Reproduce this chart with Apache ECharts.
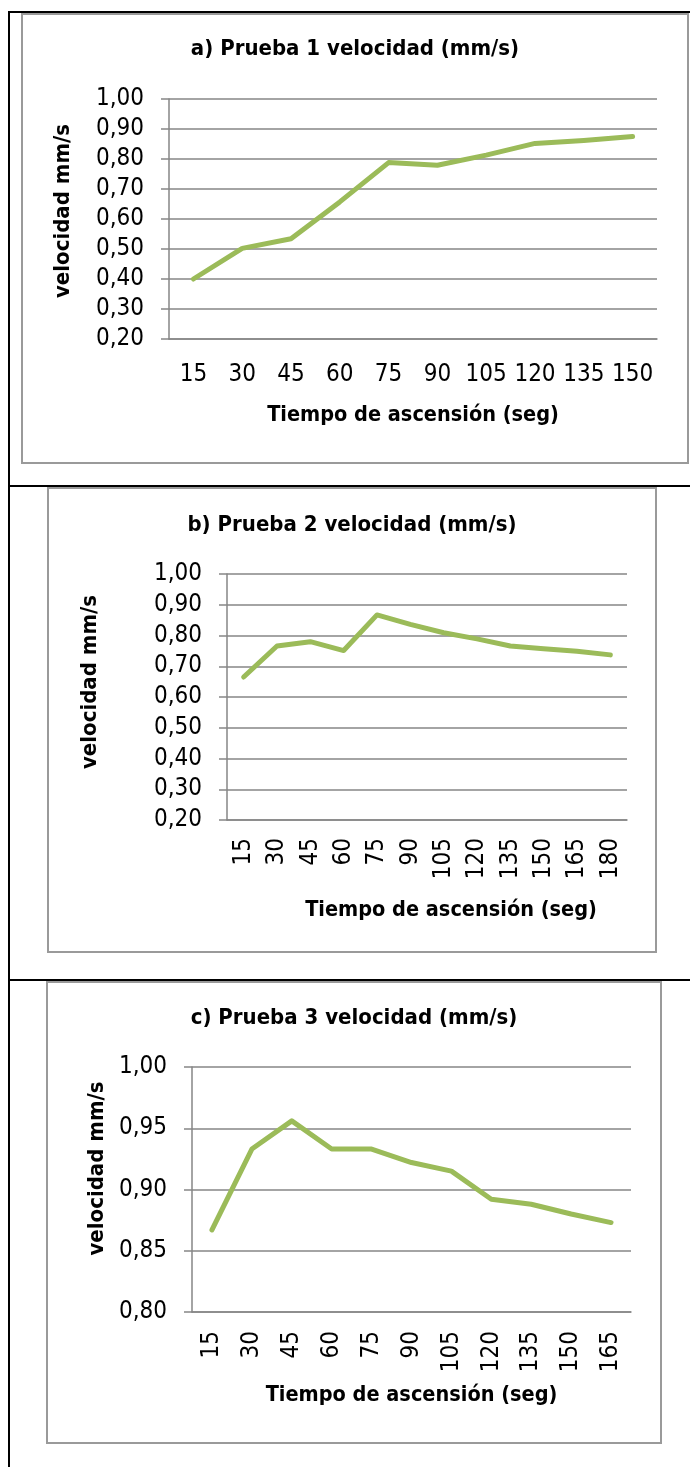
<!DOCTYPE html>
<html>
<head>
<meta charset="utf-8">
<script src="https://cdn.jsdelivr.net/npm/echarts@6/dist/echarts.min.js"></script>
<style>
  html, body { margin: 0; padding: 0; background: #fff; }
  #main { width: 690px; height: 1467px; }
</style>
</head>
<body>
<div id="main"></div>
<script>
const tiemposA = ['15', '30', '45', '60', '75', '90', '105', '120', '135', '150'];
const velocidadA = [0.400, 0.502, 0.534, 0.657, 0.788, 0.779, 0.813, 0.852, 0.862, 0.875];

const tiemposB = ['15', '30', '45', '60', '75', '90', '105', '120', '135', '150', '165', '180'];
const velocidadB = [0.665, 0.766, 0.780, 0.751, 0.867, 0.836, 0.809, 0.789, 0.766, 0.757, 0.749, 0.737];

const tiemposC = ['15', '30', '45', '60', '75', '90', '105', '120', '135', '150', '165'];
const velocidadC = [0.867, 0.933, 0.956, 0.933, 0.933, 0.922, 0.915, 0.892, 0.888, 0.880, 0.873];

const titulos = ['a) Prueba 1 velocidad (mm/s)', 'b) Prueba 2 velocidad (mm/s)', 'c) Prueba 3 velocidad (mm/s)'];
const nombreY = 'velocidad mm/s';
const nombreX = 'Tiempo de ascensión (seg)';

const FONT = "'Liberation Sans Narrow', 'DejaVu Sans Condensed', 'Liberation Sans', sans-serif";
const GRIS = '#868686';
const VERDE = '#9BBB59';

var myChart = echarts.init(document.getElementById('main'));

function coma(v) {
  return v.toFixed(2).replace('.', ',');
}

function ejeY(idx, min, max, interval, gap, pad) {
  return {
    type: 'value', gridIndex: idx, min: min, max: max, interval: interval,
    name: nombreY, nameLocation: 'middle', nameGap: gap,
    nameTextStyle: { fontFamily: FONT, fontSize: 22, fontWeight: 'bold', color: '#000', padding: pad },
    axisLine: { show: true, lineStyle: { color: GRIS, width: 1.5 } },
    axisTick: { show: true, length: 8, lineStyle: { color: GRIS, width: 1.5 } },
    axisLabel: { fontFamily: FONT, fontSize: 24, color: '#000', margin: 25, formatter: coma },
    splitLine: { show: true, lineStyle: { color: GRIS, width: 1.5 } }
  };
}

function ejeX(idx, cats, rot, margin, gap, pad) {
  return {
    type: 'category', gridIndex: idx, data: cats, boundaryGap: true,
    name: nombreX, nameLocation: 'middle', nameGap: gap,
    nameTextStyle: { fontFamily: FONT, fontSize: 21.5, fontWeight: 'bold', color: '#000', padding: pad },
    axisLine: { show: true, lineStyle: { color: GRIS, width: 1.5 } },
    axisTick: { show: false },
    axisLabel: { fontFamily: FONT, fontSize: 24, color: '#000', margin: margin, rotate: rot, interval: 0 }
  };
}

function serie(idx, data) {
  return {
    type: 'line', xAxisIndex: idx, yAxisIndex: idx, data: data,
    symbol: 'none', smooth: false,
    lineStyle: { color: VERDE, width: 5, cap: 'round', join: 'round' },
    silent: true
  };
}

function titulo(text, x, y) {
  return {
    text: text, left: x, top: y, textAlign: 'center', padding: 0,
    textStyle: { fontFamily: FONT, fontSize: 22, fontWeight: 'bold', color: '#000' }
  };
}

var option = {
  animation: false,
  title: [
    titulo(titulos[0], 355, 38),
    titulo(titulos[1], 352, 514),
    titulo(titulos[2], 354, 1007)
  ],
  grid: [
    { left: 169, top: 99, width: 488, height: 240 },
    { left: 227, top: 574, width: 400, height: 246 },
    { left: 192, top: 1067, width: 439, height: 245 }
  ],
  xAxis: [
    ejeX(0, tiemposA, 0, 24, 65, 0),
    ejeX(1, tiemposB, 90, 18, 79, [0, 0, 0, 48]),
    ejeX(2, tiemposC, 90, 19, 72, 0)
  ],
  yAxis: [
    ejeY(0, 0.2, 1.0, 0.1, 95, [0, 0, 0, 16]),
    ejeY(1, 0.2, 1.0, 0.1, 126, [0, 0, 0, 30]),
    ejeY(2, 0.8, 1.0, 0.05, 84, [0, 0, 0, 42])
  ],
  series: [
    serie(0, velocidadA),
    serie(1, velocidadB),
    serie(2, velocidadC)
  ],
  graphic: [
    // marcos grises de cada grafica
    { type: 'rect', shape: { x: 22, y: 14, width: 666, height: 449 }, style: { fill: null, stroke: '#9a9a9a', lineWidth: 2 }, z: 10 },
    { type: 'rect', shape: { x: 48, y: 488, width: 608, height: 464 }, style: { fill: null, stroke: '#9a9a9a', lineWidth: 2 }, z: 10 },
    { type: 'rect', shape: { x: 47, y: 982, width: 614, height: 461 }, style: { fill: null, stroke: '#9a9a9a', lineWidth: 2 }, z: 10 },
    // bordes negros de la tabla
    { type: 'line', shape: { x1: 9, y1: 12, x2: 9, y2: 1467 }, style: { stroke: '#000', lineWidth: 2 }, z: 5 },
    { type: 'line', shape: { x1: 8, y1: 12, x2: 690, y2: 12 }, style: { stroke: '#000', lineWidth: 2 }, z: 5 },
    { type: 'line', shape: { x1: 8, y1: 486, x2: 690, y2: 486 }, style: { stroke: '#000', lineWidth: 2 }, z: 5 },
    { type: 'line', shape: { x1: 8, y1: 980, x2: 690, y2: 980 }, style: { stroke: '#000', lineWidth: 2 }, z: 5 }
  ]
};
myChart.setOption(option);
</script>
</body>
</html>
